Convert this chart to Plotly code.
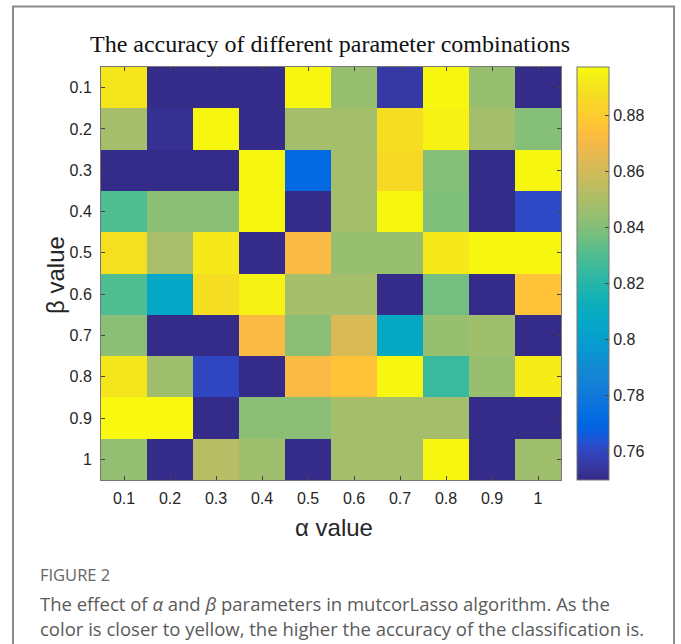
import plotly.graph_objects as go

alpha_vals = [0.1, 0.2, 0.3, 0.4, 0.5, 0.6, 0.7, 0.8, 0.9, 1.0]
beta_vals = [0.1, 0.2, 0.3, 0.4, 0.5, 0.6, 0.7, 0.8, 0.9, 1.0]
tick_labels = ["0.1", "0.2", "0.3", "0.4", "0.5", "0.6", "0.7", "0.8", "0.9", "1"]

# accuracy[beta_index][alpha_index]
row_b01 = [0.891, 0.750, 0.750, 0.750, 0.896, 0.845, 0.755, 0.896, 0.845, 0.750]
row_b02 = [0.848, 0.752, 0.896, 0.750, 0.848, 0.848, 0.888, 0.895, 0.848, 0.841]
row_b03 = [0.750, 0.750, 0.750, 0.896, 0.771, 0.848, 0.886, 0.841, 0.750, 0.896]
row_b04 = [0.830, 0.842, 0.842, 0.896, 0.750, 0.848, 0.896, 0.839, 0.750, 0.761]
row_b05 = [0.889, 0.849, 0.892, 0.750, 0.872, 0.845, 0.845, 0.892, 0.896, 0.896]
row_b06 = [0.830, 0.806, 0.888, 0.895, 0.848, 0.848, 0.750, 0.837, 0.750, 0.876]
row_b07 = [0.842, 0.750, 0.750, 0.872, 0.842, 0.862, 0.807, 0.845, 0.847, 0.750]
row_b08 = [0.891, 0.847, 0.760, 0.750, 0.872, 0.876, 0.896, 0.825, 0.845, 0.893]
row_b09 = [0.897, 0.897, 0.750, 0.842, 0.842, 0.848, 0.848, 0.848, 0.750, 0.750]
row_b10 = [0.844, 0.750, 0.853, 0.847, 0.750, 0.848, 0.848, 0.896, 0.750, 0.847]
accuracy = [row_b01, row_b02, row_b03, row_b04, row_b05,
            row_b06, row_b07, row_b08, row_b09, row_b10]

cbar_ticks = [0.76, 0.78, 0.80, 0.82, 0.84, 0.86, 0.88]
cbar_labels = ["0.76", "0.78", "0.8", "0.82", "0.84", "0.86", "0.88"]

parula = [
    [0.2081, 0.1663, 0.5292], [0.2116, 0.1898, 0.5777], [0.2123, 0.2138, 0.6270],
    [0.2081, 0.2386, 0.6771], [0.1959, 0.2645, 0.7279], [0.1707, 0.2919, 0.7792],
    [0.1253, 0.3242, 0.8303], [0.0591, 0.3598, 0.8683], [0.0117, 0.3875, 0.8820],
    [0.0060, 0.4086, 0.8828], [0.0165, 0.4266, 0.8786], [0.0329, 0.4430, 0.8720],
    [0.0498, 0.4586, 0.8641], [0.0629, 0.4737, 0.8554], [0.0723, 0.4887, 0.8467],
    [0.0779, 0.5040, 0.8384], [0.0793, 0.5200, 0.8312], [0.0749, 0.5375, 0.8263],
    [0.0641, 0.5570, 0.8240], [0.0488, 0.5772, 0.8228], [0.0343, 0.5966, 0.8199],
    [0.0265, 0.6137, 0.8135], [0.0239, 0.6287, 0.8038], [0.0231, 0.6418, 0.7913],
    [0.0228, 0.6535, 0.7768], [0.0267, 0.6642, 0.7607], [0.0384, 0.6743, 0.7436],
    [0.0590, 0.6838, 0.7254], [0.0843, 0.6928, 0.7062], [0.1133, 0.7015, 0.6859],
    [0.1453, 0.7098, 0.6646], [0.1801, 0.7177, 0.6424], [0.2178, 0.7250, 0.6193],
    [0.2586, 0.7317, 0.5954], [0.3022, 0.7376, 0.5712], [0.3482, 0.7424, 0.5473],
    [0.3953, 0.7459, 0.5244], [0.4420, 0.7481, 0.5033], [0.4871, 0.7491, 0.4840],
    [0.5300, 0.7491, 0.4661], [0.5709, 0.7485, 0.4494], [0.6099, 0.7473, 0.4337],
    [0.6473, 0.7456, 0.4188], [0.6834, 0.7435, 0.4044], [0.7184, 0.7411, 0.3905],
    [0.7525, 0.7384, 0.3768], [0.7858, 0.7356, 0.3633], [0.8185, 0.7327, 0.3498],
    [0.8507, 0.7299, 0.3360], [0.8824, 0.7274, 0.3217], [0.9139, 0.7258, 0.3063],
    [0.9450, 0.7261, 0.2886], [0.9739, 0.7314, 0.2666], [0.9938, 0.7455, 0.2403],
    [0.9990, 0.7653, 0.2164], [0.9955, 0.7861, 0.1967], [0.9880, 0.8066, 0.1794],
    [0.9789, 0.8271, 0.1633], [0.9697, 0.8481, 0.1475], [0.9626, 0.8705, 0.1309],
    [0.9589, 0.8949, 0.1132], [0.9598, 0.9218, 0.0948], [0.9661, 0.9514, 0.0755],
    [0.9763, 0.9831, 0.0538],
]
n = len(parula)
colorscale = [[i / (n - 1), "rgb(%d,%d,%d)" % tuple(round(c * 255) for c in rgb)]
              for i, rgb in enumerate(parula)]

# layout geometry (pixels)
W, H = 681, 644
L, R, T, B = 101, 561, 67, 480
pw, ph = R - L, B - T

def px(x):
    return (x - L) / pw

def py(y):
    return (B - y) / ph

TICK_FONT = dict(family="Liberation Sans, Arial, sans-serif", size=16, color="#262626")

fig = go.Figure()
fig.add_trace(go.Heatmap(
    x=alpha_vals, y=beta_vals, z=accuracy,
    colorscale=colorscale, zmin=0.7496, zmax=0.8975,
    colorbar=dict(
        x=px(577), xanchor="left", xpad=0,
        y=0.5, yanchor="middle", len=1.0, lenmode="fraction", ypad=0,
        thickness=32, thicknessmode="pixels",
        outlinewidth=1, outlinecolor="#777777",
        tickvals=cbar_ticks, ticktext=cbar_labels,
        ticks="inside", ticklen=4, tickcolor="#444444",
        tickfont=TICK_FONT,
        ticklabelposition="outside",
    ),
    showscale=True,
    hoverinfo="x+y+z",
))

axis_common = dict(
    showgrid=False, zeroline=False,
    showline=True, linecolor="#777777", linewidth=1, mirror="ticks",
    ticks="inside", ticklen=4, tickcolor="#444444",
    tickfont=TICK_FONT,
    tickvals=alpha_vals, ticktext=tick_labels,
)

fig.update_layout(
    width=W, height=H,
    margin=dict(l=L, r=W - R, t=T, b=H - B),
    paper_bgcolor="white", plot_bgcolor="white",
    xaxis=dict(axis_common, range=[0.05, 1.05], ticklabelstandoff=4),
    yaxis=dict(axis_common, range=[1.05, 0.05], ticklabelstandoff=5),
    showlegend=False,
)

annotations = [
    dict(text="The accuracy of different parameter combinations",
         x=px(330), y=py(44), xanchor="center", yanchor="middle",
         font=dict(family="Liberation Serif, Times New Roman, serif", size=24, color="#111111")),
    dict(text="α value", x=px(334), y=py(527), xanchor="center", yanchor="middle",
         font=dict(family="Liberation Sans, Arial, sans-serif", size=24, color="#262626")),
    dict(text="β value", x=px(55), y=py(275), xanchor="center", yanchor="middle",
         textangle=-90,
         font=dict(family="Liberation Sans, Arial, sans-serif", size=24, color="#262626")),
    dict(text="FIGURE 2", x=px(38), y=py(574), xanchor="left", yanchor="middle",
         font=dict(family="Open Sans", size=16.5, color="#666666")),
    dict(text="The effect of <i>α</i> and <i>β</i> parameters in mutcorLasso algorithm. As the",
         x=px(38), y=py(603), xanchor="left", yanchor="middle",
         font=dict(family="Open Sans", size=18.5, color="#5a5a5a")),
    dict(text="color is closer to yellow, the higher the accuracy of the classification is.",
         x=px(38), y=py(628), xanchor="left", yanchor="middle",
         font=dict(family="Open Sans", size=18.5, color="#5a5a5a")),
]
for a in annotations:
    a.update(xref="paper", yref="paper", showarrow=False)
fig.update_layout(annotations=annotations)

fig.add_shape(type="rect", xref="paper", yref="paper",
              x0=px(13), x1=px(674), y0=py(660), y1=py(6.5),
              line=dict(color="#8c8c8c", width=2), fillcolor="rgba(0,0,0,0)",
              layer="below")

fig.write_html("out.html")
